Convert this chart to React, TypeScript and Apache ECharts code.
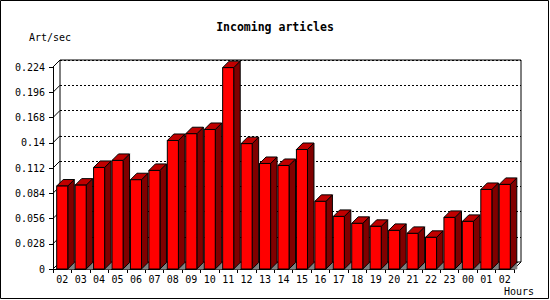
import React, { useEffect, useRef } from 'react';
import * as echarts from 'echarts';

const categories = ['02', '03', '04', '05', '06', '07', '08', '09', '10', '11', '12', '13', '14', '15', '16', '17', '18', '19', '20', '21', '22', '23', '00', '01', '02'];
const values = [0.092, 0.093, 0.1126, 0.1204, 0.099, 0.1093, 0.1425, 0.150, 0.1547, 0.2233, 0.139, 0.117, 0.1148, 0.1325, 0.075, 0.0583, 0.0506, 0.0473, 0.0428, 0.0395, 0.0351, 0.0572, 0.0528, 0.0882, 0.0938];
const yTicks = [0, 0.028, 0.056, 0.084, 0.112, 0.14, 0.168, 0.196, 0.224];
const yTickLabels = ['0', '0.028', '0.056', '0.084', '0.112', '0.14', '0.168', '0.196', '0.224'];
const titleText = 'Incoming articles';
const yName = 'Art/sec';
const xName = 'Hours';

const FONT = '"DejaVu Sans Mono", monospace';
const D = 7;
const BD = 6.5;

export default function App() {
  const ref = useRef<HTMLDivElement>(null);
  useEffect(() => {
    const chart = echarts.init(ref.current!, null, { renderer: 'svg' });
    const yMax = yTicks[yTicks.length - 1];
    const step = yTicks[1] - yTicks[0];
    const fmt = (v: number) => {
      let best = 0;
      for (let k = 0; k < yTicks.length; k++) {
        if (Math.abs(yTicks[k] - v) < Math.abs(yTicks[best] - v)) best = k;
      }
      return yTickLabels[best];
    };
    chart.setOption({
      animation: false,
      backgroundColor: '#fff',
      title: {
        text: titleText,
        left: 'center',
        top: 16,
        textStyle: { fontFamily: FONT, fontSize: 11.5, fontWeight: 'bold', color: '#000' },
      },
      grid: [
        { left: 53, right: 36, top: 67, bottom: 31, outerBoundsMode: 'none' },
        { left: 60, right: 29, top: 60, bottom: 38, show: true, borderColor: '#000', borderWidth: 1, backgroundColor: 'transparent', outerBoundsMode: 'none' },
      ],
      xAxis: [
        {
          gridIndex: 0,
          type: 'category',
          data: categories,
          boundaryGap: true,
          axisLine: { show: true, lineStyle: { color: '#000', width: 1 } },
          axisTick: { show: true, length: 4, lineStyle: { color: '#000' } },
          axisLabel: { fontFamily: FONT, fontSize: 10, color: '#000', margin: 5, interval: 0 },
          splitLine: { show: false },
        },
        { gridIndex: 1, type: 'category', data: categories, boundaryGap: true, show: false },
      ],
      yAxis: [
        {
          gridIndex: 0,
          type: 'value',
          min: 0,
          max: yMax,
          interval: step,
          axisLine: { show: true, lineStyle: { color: '#000', width: 1 } },
          axisTick: { show: true, length: 4, lineStyle: { color: '#000' } },
          axisLabel: { fontFamily: FONT, fontSize: 10, color: '#000', margin: 8, formatter: fmt },
          splitLine: { show: false },
        },
        {
          gridIndex: 1,
          type: 'value',
          min: 0,
          max: yMax,
          interval: step,
          axisLine: { show: false },
          axisTick: { show: false },
          axisLabel: { show: false },
          splitLine: { show: true, lineStyle: { color: '#000', width: 1, type: [2, 2] } },
        },
      ],
      series: [
        {
          type: 'custom',
          xAxisIndex: 0,
          yAxisIndex: 0,
          z: 1,
          silent: true,
          data: yTicks.map((v) => [0, v]),
          encode: { x: 0, y: 1 },
          renderItem: (params: any, api: any) => {
            const p = api.coord([api.value(0), api.value(1)]);
            const band = api.size([1, 0])[0];
            const x0 = p[0] - band / 2;
            return {
              type: 'line',
              shape: { x1: x0, y1: p[1], x2: x0 + D, y2: p[1] - D },
              style: { stroke: '#000', lineWidth: 1 },
            };
          },
        },
        {
          type: 'custom',
          xAxisIndex: 0,
          yAxisIndex: 0,
          z: 1,
          silent: true,
          data: [[categories.length - 1, 0]],
          encode: { x: 0, y: 1 },
          renderItem: (params: any, api: any) => {
            const p = api.coord([api.value(0), api.value(1)]);
            const band = api.size([1, 0])[0];
            const x0 = p[0] + band / 2;
            return {
              type: 'line',
              shape: { x1: x0, y1: p[1], x2: x0 + D, y2: p[1] - D },
              style: { stroke: '#000', lineWidth: 1 },
            };
          },
        },
        {
          type: 'custom',
          xAxisIndex: 0,
          yAxisIndex: 0,
          z: 3,
          silent: true,
          data: values.map((v, i) => [i, v]),
          encode: { x: 0, y: 1 },
          renderItem: (params: any, api: any) => {
            const i = api.value(0);
            const v = api.value(1);
            const top = api.coord([i, v]);
            const base = api.coord([i, 0]);
            const band = api.size([1, 0])[0];
            const w = band * 0.6;
            const x1 = top[0] - w / 2;
            const x2 = x1 + w;
            const yt = top[1];
            const yb = base[1];
            return {
              type: 'group',
              children: [
                {
                  type: 'polygon',
                  shape: { points: [[x2, yb], [x2 + BD, yb - BD], [x2 + BD, yb]] },
                  style: { fill: '#808080', stroke: '#808080', lineWidth: 1 },
                },
                {
                  type: 'polygon',
                  shape: { points: [[x2, yt], [x2 + BD, yt - BD], [x2 + BD, yb - BD], [x2, yb]] },
                  style: { fill: '#800000', stroke: '#000', lineWidth: 1 },
                },
                {
                  type: 'polygon',
                  shape: { points: [[x1, yt], [x1 + BD, yt - BD], [x2 + BD, yt - BD], [x2, yt]] },
                  style: { fill: '#c00000', stroke: '#000', lineWidth: 1 },
                },
                {
                  type: 'rect',
                  shape: { x: x1, y: yt, width: w, height: yb - yt },
                  style: { fill: '#ff0000', stroke: '#000', lineWidth: 1 },
                },
              ],
            };
          },
        },
      ],
      graphic: [
        {
          type: 'rect',
          silent: true,
          shape: { x: 0.5, y: 0.5, width: 548, height: 298 },
          style: { fill: 'none', stroke: '#000', lineWidth: 1 },
        },
        {
          type: 'text',
          left: 29,
          top: 32,
          style: { text: yName, font: '10px "DejaVu Sans Mono", monospace', fill: '#000' },
        },
        {
          type: 'text',
          left: 504,
          top: 286,
          style: { text: xName, font: '10px "DejaVu Sans Mono", monospace', fill: '#000' },
        },
      ],
    });
    return () => chart.dispose();
  }, []);
  return <div ref={ref} style={{ position: 'absolute', left: 0, top: 0, width: 550, height: 300 }} />;
}
